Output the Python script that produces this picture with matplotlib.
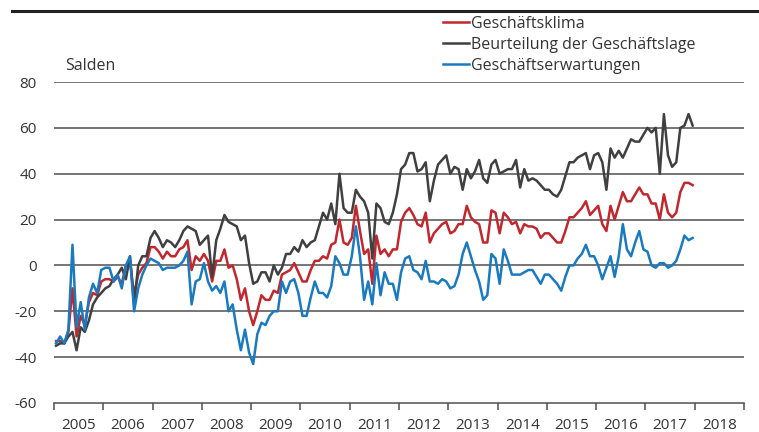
import matplotlib
matplotlib.use("Agg")
import matplotlib.pyplot as plt
import numpy as np

plt.rcParams['font.family'] = ['Open Sans', 'DejaVu Sans']

# monatliche Salden, Jan 2005 - Dez 2017
klima = [-33, -33, -34, -29, -10, -31, -22, -26, -16, -12, -13, -7,
         -6, -6, -7, -5, -8, 0, 2, -13, -4, -1, 1, 8,
         8, 6, 3, 6, 4, 4, 7, 8, 11, -2, 4, 2,
         5, 2, -7, 2, 2, 7, -1, 0, -6, -15, -10, -20,
         -26, -20, -13, -15, -15, -11, -12, -4, -3, -2, 1, -3,
         -7, -7, -2, 2, 2, 4, 3, 9, 10, 20, 10, 9,
         12, 26, 15, 5, 7, -8, 13, 5, 7, 4, 7, 7,
         19, 23, 25, 22, 18, 17, 23, 10, 14, 16, 18, 19,
         14, 15, 18, 18, 26, 21, 19, 18, 10, 10, 24, 23,
         14, 23, 21, 18, 19, 14, 18, 17, 17, 16, 12, 14,
         14, 12, 10, 10, 15, 21, 21, 23, 25, 28, 22, 24,
         26, 18, 15, 26, 20, 26, 32, 28, 28, 31, 34, 31,
         31, 27, 27, 20, 31, 23, 21, 23, 32, 36, 36, 35]

lage = [-35, -34, -34, -31, -29, -37, -27, -29, -24, -17, -14, -12,
        -10, -9, -6, -4, -1, -6, 4, -17, 0, 4, 4, 12,
        15, 12, 8, 11, 10, 8, 11, 15, 17, 16, 15, 9,
        11, 13, -5, 11, 16, 22, 19, 18, 17, 11, 13, 1,
        -8, -7, -3, -3, -7, 0, -4, -1, 5, 5, 8, 6,
        11, 8, 10, 11, 17, 23, 20, 27, 18, 40, 25, 23,
        23, 33, 30, 28, 23, 3, 27, 25, 19, 18, 23, 31,
        42, 44, 49, 49, 41, 42, 45, 28, 37, 44, 46, 48,
        40, 43, 42, 33, 42, 38, 41, 46, 38, 36, 44, 46,
        40, 41, 42, 42, 46, 34, 42, 37, 38, 37, 35, 33,
        33, 31, 30, 33, 39, 45, 45, 47, 48, 49, 42, 48,
        49, 45, 33, 51, 47, 50, 47, 51, 55, 54, 54, 57,
        60, 58, 60, 40, 66, 48, 43, 45, 60, 61, 66, 61]

erwartung = [-34, -31, -34, -28, 9, -27, -16, -28, -14, -8, -12, -2,
             -1, -1, -7, -4, -10, 0, 4, -20, -10, -4, 0, 3,
             2, 1, -2, -1, -1, -1, 0, 2, 6, -17, -7, -6,
             1, -7, -11, -9, -12, -7, -20, -17, -28, -37, -28, -38,
             -43, -30, -25, -26, -22, -20, -20, -7, -12, -7, -6, -12,
             -22, -22, -14, -7, -12, -12, -14, -9, 4, 1, -4, -4,
             4, 17, 4, -15, -7, -17, 1, -13, -3, -8, -8, -15,
             -3, 3, 4, -2, -3, -6, 2, -7, -7, -8, -6, -7,
             -10, -9, -4, 5, 10, 4, -2, -7, -15, -13, 5, 3,
             -8, 7, 2, -4, -4, -4, -3, -2, -2, -5, -8, -4,
             -4, -6, -8, -11, -5, 0, 0, 3, 5, 9, 4, 4,
             0, -6, -1, 4, -5, 4, 18, 7, 4, 10, 15, 7,
             6, 0, -1, 1, 1, -1, 0, 2, 7, 13, 11, 12]

years = list(range(2005, 2019))
yticks = [-60, -40, -20, 0, 20, 40, 60, 80]

t = 2005 + (np.arange(len(klima)) + 0.5) / 12

fig = plt.figure(figsize=(7.59, 4.32), dpi=100)
ax = fig.add_axes([54/759, 29/432, 690/759, 321/432])

txt = '#333333'
grid_c = '#505050'

for v in yticks[1:]:
    ax.axhline(v, color=grid_c, lw=1.1, zorder=1)

ax.plot(t, klima, color='#C1272D', lw=1.8, label='Geschäftsklima', zorder=3)
ax.plot(t, lage, color='#404040', lw=1.8, label='Beurteilung der Geschäftslage', zorder=3)
ax.plot(t, erwartung, color='#1A7AC0', lw=1.8, label='Geschäftserwartungen', zorder=3)

ax.set_xlim(2005, 2019)
ax.set_ylim(-60, 80)
ax.set_yticks(yticks)
ax.set_yticklabels([str(v) for v in yticks])
ax.set_xticks(range(2005, 2020))
ax.set_xticklabels([])
ax.set_xticks([y + 0.5 for y in years], minor=True)
ax.set_xticklabels([str(y) for y in years], minor=True)
ax.tick_params(axis='x', which='major', length=5, width=1.1, color=grid_c, direction='out')
ax.tick_params(axis='x', which='minor', length=0, pad=10.5, labelsize=11, labelcolor=txt)
ax.tick_params(axis='y', length=0, pad=12.5, labelsize=11, labelcolor=txt)

for s in ['top', 'right', 'left']:
    ax.spines[s].set_visible(False)
ax.spines['bottom'].set_color(grid_c)
ax.spines['bottom'].set_linewidth(1.1)

fig.text(65/759, 1 - 66/432, 'Salden', fontsize=11.5, color=txt, va='center', ha='left')

fig.legend(loc='upper left', bbox_to_anchor=(443/759, 1 - 16/432), frameon=False,
           fontsize=11.5, handlelength=1.62, handletextpad=0.12, labelspacing=0.3,
           borderpad=0, borderaxespad=0, labelcolor=txt)

fig.add_artist(plt.Line2D([12/759, 1], [1 - 11/432, 1 - 11/432], color='#222222', lw=2.2,
                          transform=fig.transFigure))

fig.savefig('out.png', dpi=100)
